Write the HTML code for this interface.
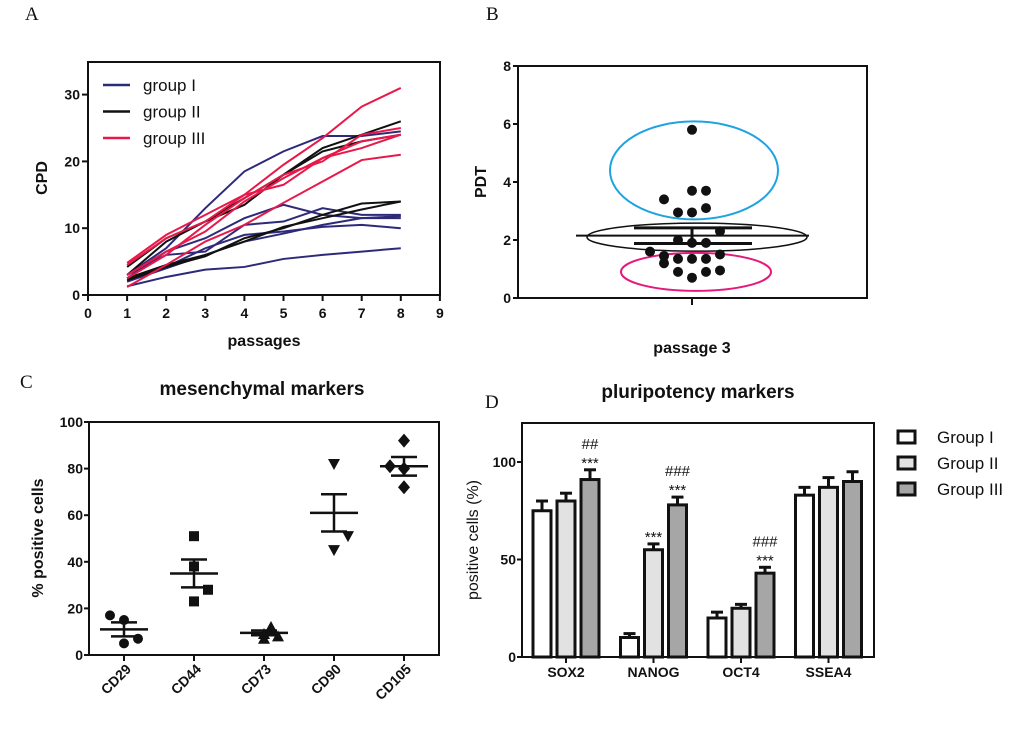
<!DOCTYPE html>
<html><head><meta charset="utf-8"><style>
body{margin:0;background:#fff;}
svg{display:block;font-family:"Liberation Sans",Arial,sans-serif;}
.tk{font-size:14px;font-weight:bold;fill:#111;}
.ttl{font-size:16px;font-weight:bold;fill:#111;}
.pl{font-family:"Liberation Serif",serif;font-size:19px;fill:#111;}
</style></head><body>
<svg id="fig" width="1020" height="738" viewBox="0 0 1020 738" xmlns="http://www.w3.org/2000/svg">
<text class="pl" x="25" y="20">A</text>
<text class="pl" x="486" y="20">B</text>
<text class="pl" x="20" y="388">C</text>
<text class="pl" x="485" y="408">D</text>
<g id="A"></g>
<g id="B"></g>
<g id="C"></g>
<g id="D"></g>
</svg>
<script>
// Panel A data
const passages=[1,2,3,4,5,6,7,8];
const aXTicks=[0,1,2,3,4,5,6,7,8,9];
const aYTicks=[0,10,20,30];
const groupI=[[1.3,2.7,3.8,4.2,5.4,6.0,6.5,7.0],[3.0,7.0,13.0,18.5,21.5,23.8,23.8,24.5],[2.5,6.5,8.5,11.5,13.5,12.0,11.5,11.5],[3.0,6.0,6.5,10.5,11.0,13.0,12.0,12.0],[2.5,4.2,7.0,9.0,9.5,10.2,10.5,10.0],[2.0,4.0,6.0,8.0,9.2,10.5,11.5,11.8]];
const groupII=[[4.2,8.5,11.0,14.5,18.0,22.0,24.0,26.0],[3.0,8.0,11.0,13.5,18.0,21.5,23.0,24.0],[2.2,4.2,5.8,8.5,10.0,12.0,13.7,14.0],[2.5,4.5,6.0,8.0,10.2,11.5,12.8,14.0]];
const groupIII=[[4.8,9.0,12.0,15.0,19.5,23.5,28.2,31.0],[4.5,8.5,11.0,15.0,16.5,20.5,22.0,24.0],[2.5,6.0,10.5,14.5,18.0,20.0,24.0,25.0],[1.2,4.5,8.0,10.5,13.8,17.0,20.2,21.0],[3.0,6.5,9.5,14.0,17.5,20.5,23.0,24.0]];
// Panel B data
const pdtOffsets=[0,0,1,-2,-1,0,1,2,-1,0,1,-3,-2,-2,-1,0,1,2,-1,1,2,0];
const pdtValues=[5.8,3.7,3.7,3.4,2.95,2.95,3.1,2.3,2.0,1.9,1.9,1.6,1.45,1.2,1.35,1.35,1.35,1.5,0.9,0.9,0.95,0.7];
const pdtMean=[2.15];
const pdtErr=[0.27];
const bYTicks=[0,2,4,6,8];
// Panel C data
const cCats=["CD29","CD44","CD73","CD90","CD105"];
const cPoints=[[17,15,5,7],[51,38,28,23],[12,9,7,8],[82,51,45],[92,81,80,72]];
const cOffsets=[[-1,0,0,1],[0,0,1,0],[0.5,0,0,1],[0,1,0],[0,-1,0,0]];
const cMeans=[11,35,9.5,61,81];
const cSem=[3,6,1,8,4];
const cYTicks=[0,20,40,60,80,100];
// Panel D data
const dCats=["SOX2","NANOG","OCT4","SSEA4"];
const dGroups=["Group I","Group II","Group III"];
const dG1=[75,10,20,83];
const dG2=[80,55,25,87];
const dG3=[91,78,43,90];
const dE1=[5,2,3,4];
const dE2=[4,3,2,5];
const dE3=[5,4,3,5];
const dYTicks=[0,50,100];
const dAnn=[[2,0,["##","***"]],[1,1,["***"]],[2,1,["###","***"]],[2,2,["###","***"]]];

const NS="http://www.w3.org/2000/svg";
function el(p,t,a,txt){const e=document.createElementNS(NS,t);for(const k in a)e.setAttribute(k,a[k]);if(txt!==undefined)e.textContent=txt;p.appendChild(e);return e;}

// ---------- Panel A ----------
(function(){
const g=document.getElementById('A');
const X=v=>88+v*39.1, Y=v=>295-v*6.68;
const box=el(g,'rect',{x:88,y:62,width:352,height:233,fill:'none',stroke:'#111','stroke-width':2});


aXTicks.forEach(t=>{const l=el(g,'line',{x1:X(t),x2:X(t),y1:295,y2:301,stroke:'#111','stroke-width':2});


const s=el(g,'text',{x:X(t),y:318,'text-anchor':'middle',class:'tk'},t);

});
aYTicks.forEach(t=>{const l=el(g,'line',{x1:82,x2:88,y1:Y(t),y2:Y(t),stroke:'#111','stroke-width':2});


const s=el(g,'text',{x:80,y:Y(t)+5,'text-anchor':'end',class:'tk'},t);

});
const yt=el(g,'text',{x:0,y:0,transform:'translate(47,178) rotate(-90)','text-anchor':'middle',class:'ttl'},'CPD');


const xt=el(g,'text',{x:264,y:346,'text-anchor':'middle',class:'ttl'},'passages');


const series=[[groupI,'#2e2a7a','group I'],[groupII,'#111','group II'],[groupIII,'#e8194a','group III']];
series.forEach(([arr,c,name],gi)=>{
 arr.forEach(vals=>{const p=el(g,'polyline',{points:vals.map((v,i)=>X(passages[i])+','+Y(v)).join(' '),fill:'none',stroke:c,'stroke-width':2});
 
 });
 const ly=85+gi*26.5;
 const ll=el(g,'line',{x1:103,x2:130,y1:ly,y2:ly,stroke:c,'stroke-width':2.5});
 
 
 const lt=el(g,'text',{x:143,y:ly+6,'font-size':17,fill:'#111'},name);
 
 
});
})();

// ---------- Panel B ----------
(function(){
const g=document.getElementById('B');
const Y=v=>298-v*29, cx=692, dx=14;
const box=el(g,'rect',{x:518,y:66,width:349,height:232,fill:'none',stroke:'#111','stroke-width':2});


bYTicks.forEach(t=>{const l=el(g,'line',{x1:513,x2:518,y1:Y(t),y2:Y(t),stroke:'#111','stroke-width':2});


const s=el(g,'text',{x:511,y:Y(t)+5,'text-anchor':'end',class:'tk'},t);

});
const xtk=el(g,'line',{x1:cx,x2:cx,y1:298,y2:305,stroke:'#111','stroke-width':2});


const yt=el(g,'text',{x:0,y:0,transform:'translate(486,182) rotate(-90)','text-anchor':'middle',class:'ttl'},'PDT');


const xt=el(g,'text',{x:692,y:353,'text-anchor':'middle',class:'ttl'},'passage 3');


const e1=el(g,'ellipse',{cx:694,cy:Y(4.4),rx:84,ry:49,fill:'none',stroke:'#1fa3e0','stroke-width':2});


const e3=el(g,'ellipse',{cx:696,cy:Y(0.9),rx:75,ry:19,fill:'none',stroke:'#e5197a','stroke-width':2});


pdtValues.forEach((v,i)=>{const c=el(g,'circle',{cx:cx+pdtOffsets[i]*dx,cy:Y(v),r:5,fill:'#111'});

});
const e2=el(g,'ellipse',{cx:697,cy:Y(2.1),rx:110,ry:14,fill:'none',stroke:'#111','stroke-width':1.5});


const m=pdtMean[0],e=pdtErr[0];
const ml=el(g,'line',{x1:576,x2:809,y1:Y(m),y2:Y(m),stroke:'#111','stroke-width':2});


[m+e,m-e].forEach(v=>{const c=el(g,'line',{x1:634,x2:752,y1:Y(v),y2:Y(v),stroke:'#111','stroke-width':3});

});
const vl=el(g,'line',{x1:cx,x2:cx,y1:Y(m+e),y2:Y(m-e),stroke:'#111','stroke-width':3});


})();

// ---------- Panel C ----------
(function(){
const g=document.getElementById('C');
const Y=v=>655-v*2.33, X=i=>124+i*70, dx=14;
const t=el(g,'text',{x:262,y:395,'text-anchor':'middle','font-size':19,'font-weight':'bold',fill:'#111'},'mesenchymal markers');


const box=el(g,'rect',{x:89,y:422,width:350,height:233,fill:'none',stroke:'#111','stroke-width':2});


cYTicks.forEach(v=>{const l=el(g,'line',{x1:84,x2:89,y1:Y(v),y2:Y(v),stroke:'#111','stroke-width':2});


const s=el(g,'text',{x:83,y:Y(v)+5,'text-anchor':'end',class:'tk'},v);

});
const yt=el(g,'text',{x:0,y:0,transform:'translate(43,538) rotate(-90)','text-anchor':'middle',class:'ttl'},'% positive cells');


cCats.forEach((c,i)=>{
 const x=X(i);
 const l=el(g,'line',{x1:x,x2:x,y1:655,y2:661,stroke:'#111','stroke-width':2});
 
 
 const s=el(g,'text',{x:0,y:0,transform:`translate(${x+8},${670}) rotate(-45)`,'text-anchor':'end',class:'tk'},c);
 
 
 cPoints[i].forEach((v,j)=>{
  const px=x+cOffsets[i][j]*dx, py=Y(v); let m;
  if(i===0) m=el(g,'circle',{cx:px,cy:py,r:5,fill:'#111'});
  else if(i===1) m=el(g,'rect',{x:px-5,y:py-5,width:10,height:10,fill:'#111'});
  else if(i===2) m=el(g,'polygon',{points:`${px},${py-6} ${px-6},${py+5} ${px+6},${py+5}`,fill:'#111'});
  else if(i===3) m=el(g,'polygon',{points:`${px},${py+6} ${px-6},${py-5} ${px+6},${py-5}`,fill:'#111'});
  else m=el(g,'polygon',{points:`${px},${py-7} ${px-6},${py} ${px},${py+7} ${px+6},${py}`,fill:'#111'});
  
  
 });
 const mm=cMeans[i], se=cSem[i];
 const ml=el(g,'line',{x1:x-24,x2:x+24,y1:Y(mm),y2:Y(mm),stroke:'#111','stroke-width':2.5});
 
 
 [mm+se,mm-se].forEach(v=>{const cp=el(g,'line',{x1:x-13,x2:x+13,y1:Y(v),y2:Y(v),stroke:'#111','stroke-width':2.5});
 
 });
 const vl=el(g,'line',{x1:x,x2:x,y1:Y(mm+se),y2:Y(mm-se),stroke:'#111','stroke-width':2.5});
 
 
});
})();

// ---------- Panel D ----------
(function(){
const g=document.getElementById('D');
const Y=v=>657-v*1.95, X=i=>566+i*87.5, bw=18, gap=24;
const fills=['#fff','#e2e2e2','#a6a6a6'];
const vals=[dG1,dG2,dG3], errs=[dE1,dE2,dE3];
const t=el(g,'text',{x:698,y:398,'text-anchor':'middle','font-size':19,'font-weight':'bold',fill:'#111'},'pluripotency markers');


const box=el(g,'rect',{x:522,y:423,width:352,height:234,fill:'none',stroke:'#111','stroke-width':2});


dYTicks.forEach(v=>{const l=el(g,'line',{x1:517,x2:522,y1:Y(v),y2:Y(v),stroke:'#111','stroke-width':2});


const s=el(g,'text',{x:516,y:Y(v)+5,'text-anchor':'end',class:'tk'},v);

});
const yt=el(g,'text',{x:0,y:0,transform:'translate(478,540) rotate(-90)','text-anchor':'middle','font-size':16,fill:'#111'},'positive cells (%)');


dCats.forEach((c,i)=>{
 const x=X(i);
 const l=el(g,'line',{x1:x,x2:x,y1:657,y2:663,stroke:'#111','stroke-width':2});
 
 
 const s=el(g,'text',{x:x,y:677,'text-anchor':'middle',class:'tk'},c);
 
 
 for(let k=0;k<3;k++){
  const cx=x+(k-1)*gap, v=vals[k][i], e=errs[k][i];
  const eb=el(g,'line',{x1:cx,x2:cx,y1:Y(v),y2:Y(v+e),stroke:'#111','stroke-width':3});
  
  
  const ec=el(g,'line',{x1:cx-6,x2:cx+6,y1:Y(v+e),y2:Y(v+e),stroke:'#111','stroke-width':3});
  
  
  const b=el(g,'rect',{x:cx-bw/2,y:Y(v),width:bw,height:Y(0)-Y(v),fill:fills[k],stroke:'#111','stroke-width':3});
  
  
 }
});
dAnn.forEach(([k,i,lines])=>{
 const cx=X(i)+(k-1)*gap, top=Y(vals[k][i]+errs[k][i])-6;
 lines.slice().reverse().forEach((s,j)=>{const a=el(g,'text',{x:cx,y:top-j*15+(s==='***'?4:0),'text-anchor':'middle','font-size':15,fill:'#111'},s);
 
 });
});
dGroups.forEach((n,k)=>{
 const y=431+k*26;
 const r=el(g,'rect',{x:898,y:y,width:17,height:12,fill:fills[k],stroke:'#111','stroke-width':3});
 
 
 const tx=el(g,'text',{x:937,y:y+12,'font-size':17,fill:'#111'},n);
 
 
});
})();
</script>
</body></html>
